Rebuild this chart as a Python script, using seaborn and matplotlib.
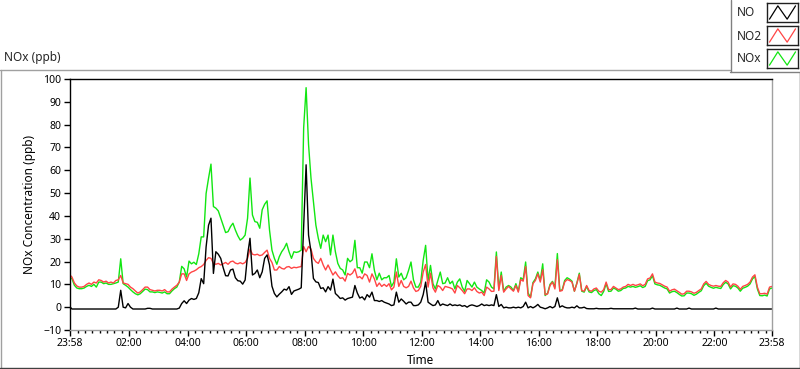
import pandas as pd
import matplotlib
matplotlib.use("Agg")
import matplotlib.pyplot as plt
from matplotlib.lines import Line2D
from matplotlib.patches import Rectangle
import seaborn as sns


# 5-minute samples starting 23:58
start = "2019-03-01 23:58"
step = "5min"

no_ppb = [
    0.4, -0.8, -0.8, -0.8, -0.8, -0.8, -0.8, -0.8, -0.8, -0.8,
    -0.8, -0.8, -0.8, -0.8, -0.8, -0.8, -0.8, -0.8, -0.8, -0.8,
    0.0, 7.4, 0.0, -0.3, 1.6, 0.0, -0.8, -0.8, -0.8, -0.8,
    -0.8, -0.8, -0.5, -0.5, -0.8, -0.8, -0.8, -0.8, -0.8, -0.8,
    -0.8, -0.8, -0.8, -0.8, -0.8, -0.4, 1.6, 2.8, 1.6, 3.1,
    3.8, 3.4, 3.8, 6.3, 12.5, 10.3, 26.4, 35.9,
    39.0, 14.8, 24.3, 23.2, 21.4, 17.3, 13.8, 13.7, 16.3, 16.7,
    12.9, 11.6, 11.4, 10.1, 11.9, 22.9, 30.2, 14.1, 14.8, 16.3,
    12.9, 15.5, 21.4, 22.9, 18.5, 9.2, 6.0, 4.5, 5.7, 6.7,
    7.9, 7.5, 9.0, 5.6, 7.1, 7.5, 7.9, 8.5, 36.0, 62.4,
    31.6, 24.3, 12.6, 11.1, 10.8, 8.2, 8.5, 6.7, 9.0, 7.5,
    12.3, 6.0, 5.0, 3.8, 4.1, 3.1, 3.8, 4.1,
    4.4, 9.5, 6.2, 4.0, 4.5, 3.2, 5.5, 4.4, 6.6, 2.9,
    2.9, 2.5, 2.9, 2.2, 1.8, 1.4, 0.7, 1.0, 6.6, 2.2,
    3.6, 2.6, 1.4, 2.2, 2.2, 0.7, 0.7, 1.0, 2.2, 5.5,
    11.0, 2.2, 1.4, 0.7, 1.0, 2.9, 0.7, 1.4, 1.0, 0.7,
    1.4, 0.7, 1.0, 0.7, 1.0, 0.4, 0.7, 0.0, 0.7, 1.0,
    0.7, 0.3, 0.7, 1.4, 0.7, 1.0, 0.7, 1.0,
    0.7, 5.5, 0.3, 1.2, -0.3, 0.0, -0.3, -0.3, 0.0, -0.3,
    0.0, -0.3, 0.3, 2.2, -0.3, 0.3, -0.3, 0.3, 1.2, 0.0,
    -0.3, -0.7, -0.3, 0.3, -0.3, 0.3, 4.1, 0.0, 0.6, 0.0,
    -0.3, -0.3, 0.0, -0.3, 0.6, -0.3, -0.3, 0.0, -0.6, -0.7,
    -0.7, -0.7, -0.5, -0.7, -0.7, -0.7, -0.7, -0.7, -0.5, -0.7,
    -0.7, -0.7, -0.7, -0.7, -0.7, -0.7, -0.7, -0.7,
    -0.4, -0.8, -0.8, -0.8, -0.8, -0.8, -0.8, -0.4, -0.8, -0.8,
    -0.8, -0.8, -0.8, -0.8, -0.8, -0.8, -0.8, -0.4, -0.8, -0.8,
    -0.8, -0.8, -0.4, -0.8, -0.8, -0.8, -0.8, -0.8, -0.8, -0.8,
    -0.8, -0.8, -0.8, -0.4, -0.8, -0.8, -0.8, -0.8, -0.8, -0.8,
    -0.8, -0.8, -0.8, -0.8, -0.8, -0.8, -0.8, -0.8, -0.8, -0.8,
    -0.8, -0.8, -0.8, -0.8, -0.8, -0.8, -0.8,
]

no2_ppb = [
    14.3, 13.2, 10.6, 9.3, 8.8, 8.8, 9.1, 10.0, 10.6, 10.0,
    11.0, 10.6, 12.0, 11.7, 11.0, 11.4, 10.6, 11.0, 10.6, 11.7,
    12.0, 13.9, 10.6, 10.3, 10.0, 8.8, 8.1, 7.1, 6.2, 6.7,
    7.7, 8.8, 8.8, 7.7, 7.4, 7.1, 7.4, 7.4, 7.1, 7.7,
    6.7, 6.7, 7.9, 8.8, 9.6, 11.0, 14.6, 14.6, 11.7, 14.6,
    15.4, 15.8, 16.4, 17.3, 17.8, 18.7, 20.5, 21.7,
    21.4, 19.2, 18.8, 19.2, 18.5, 19.0, 19.6, 18.8, 19.9, 20.2,
    19.3, 19.0, 19.5, 19.0, 19.6, 21.4, 25.5, 23.2, 22.9, 23.2,
    22.6, 22.9, 24.0, 25.0, 21.4, 19.6, 16.3, 16.3, 17.8, 17.0,
    16.7, 17.6, 17.8, 17.0, 17.5, 17.3, 17.6, 17.8, 26.6, 24.3,
    26.6, 25.5, 21.4, 19.9, 19.2, 21.4, 18.5, 16.3, 18.5, 16.3,
    14.1, 15.5, 13.8, 12.6, 12.9, 11.4, 14.8, 14.1,
    14.9, 16.8, 12.9, 13.4, 12.4, 14.6, 13.9, 11.0, 14.6, 12.4,
    9.1, 10.6, 9.1, 10.0, 9.1, 10.3, 7.6, 8.8, 15.4, 9.1,
    11.7, 9.1, 8.5, 9.1, 11.4, 8.5, 6.9, 7.3, 9.1, 15.4,
    18.7, 8.8, 14.9, 8.5, 6.6, 9.5, 8.8, 7.3, 9.1, 8.8,
    8.5, 8.0, 6.2, 9.5, 8.5, 7.3, 5.9, 8.0, 8.0, 7.3,
    8.5, 6.9, 6.2, 6.6, 5.1, 8.8, 8.0, 6.9,
    7.0, 22.2, 7.3, 13.9, 6.6, 8.0, 9.1, 8.0, 7.0, 9.5,
    6.6, 12.1, 11.4, 17.8, 5.1, 4.1, 10.3, 11.7, 14.6, 11.0,
    16.4, 5.5, 5.8, 9.5, 11.0, 8.0, 20.8, 7.0, 7.3, 11.0,
    12.1, 11.7, 11.0, 7.0, 10.3, 14.3, 7.3, 7.0, 9.5, 7.3,
    7.0, 8.0, 8.4, 7.0, 6.6, 7.7, 11.0, 7.7, 7.7, 9.1,
    8.4, 7.7, 8.0, 8.8, 9.1, 10.0, 9.5, 10.0,
    9.5, 9.8, 10.2, 9.4, 10.0, 12.4, 12.8, 14.6, 11.0, 10.6,
    10.4, 9.8, 9.2, 8.8, 7.0, 7.6, 7.9, 7.2, 6.5, 5.7,
    5.9, 7.0, 7.0, 6.7, 6.1, 6.5, 7.3, 8.0, 10.2, 11.3,
    10.0, 9.5, 9.2, 9.5, 9.2, 9.1, 10.7, 11.7, 11.0, 8.8,
    10.2, 10.0, 9.2, 7.8, 9.1, 9.5, 10.0, 11.0, 13.2, 14.2,
    8.8, 5.9, 5.9, 6.1, 5.7, 8.8, 9.1,
]

nox_ppb = [
    13.2, 12.5, 9.6, 8.4, 8.1, 8.1, 8.4, 9.1, 9.6, 9.1,
    10.0, 8.8, 11.0, 11.0, 10.3, 10.6, 10.0, 10.0, 10.3, 10.6,
    11.0, 21.2, 10.3, 9.6, 8.8, 7.7, 6.7, 5.9, 5.4, 5.9,
    6.9, 7.9, 7.7, 6.7, 6.7, 6.4, 6.7, 6.5, 6.2, 6.7,
    5.9, 5.9, 7.1, 8.1, 8.8, 11.0, 17.9, 16.8, 13.2, 20.2,
    19.0, 19.7, 18.7, 23.4, 30.8, 30.8, 49.8, 56.5,
    62.7, 44.1, 43.4, 42.2, 39.0, 35.7, 32.7, 33.1, 35.3, 36.8,
    33.8, 31.3, 29.4, 30.2, 31.6, 39.0, 56.6, 40.4, 37.5, 37.2,
    34.6, 42.7, 45.1, 46.6, 33.8, 25.0, 21.4, 18.8, 22.1, 24.3,
    25.8, 28.0, 24.3, 21.4, 24.3, 24.0, 24.3, 25.0, 78.6, 96.2,
    71.3, 56.6, 46.3, 36.0, 30.2, 25.8, 31.6, 28.7, 31.6, 22.9,
    31.6, 24.3, 19.2, 17.0, 16.3, 14.1, 21.4, 19.9,
    20.8, 29.3, 17.3, 17.3, 14.9, 19.8, 19.8, 17.3, 23.4, 16.1,
    12.0, 14.9, 12.0, 12.9, 12.9, 13.9, 9.1, 11.0, 21.2, 13.2,
    14.9, 12.0, 12.9, 16.1, 19.8, 12.0, 8.8, 8.8, 11.0, 20.5,
    27.1, 11.7, 18.3, 10.3, 8.0, 11.7, 15.4, 10.3, 10.6, 12.9,
    10.3, 11.4, 8.0, 11.0, 12.4, 8.8, 6.9, 11.7, 10.3, 8.8,
    11.0, 8.8, 8.0, 7.3, 6.2, 12.0, 11.0, 8.8,
    8.0, 24.2, 8.0, 15.4, 7.0, 8.8, 9.5, 8.8, 7.3, 10.3,
    7.0, 12.9, 12.1, 19.8, 6.2, 4.4, 10.8, 12.4, 15.4, 11.7,
    19.0, 5.1, 6.1, 10.0, 11.3, 8.8, 23.5, 7.3, 7.6, 11.7,
    12.9, 12.3, 11.4, 7.0, 10.6, 14.9, 7.0, 6.6, 9.1, 6.7,
    6.4, 7.3, 7.7, 5.9, 5.1, 6.9, 10.3, 6.9, 7.0, 8.4,
    7.9, 7.0, 7.3, 8.2, 8.4, 9.1, 8.8, 9.1,
    8.7, 9.0, 9.4, 8.6, 9.1, 11.6, 12.0, 13.8, 10.2, 9.8,
    9.6, 9.0, 8.4, 8.0, 6.2, 6.8, 7.0, 6.4, 5.6, 4.9,
    5.0, 6.2, 6.2, 5.9, 5.2, 5.7, 6.5, 7.2, 9.4, 10.5,
    9.2, 8.7, 8.3, 8.7, 8.4, 8.2, 9.9, 10.9, 10.2, 8.0,
    9.4, 9.2, 8.4, 7.0, 8.3, 8.7, 9.2, 10.2, 12.4, 13.4,
    8.0, 5.1, 5.0, 5.3, 4.9, 8.0, 8.4,
]

species = ["NO", "NO2", "NOx"]
colors = {"NO": "#000000", "NO2": "#ff4545", "NOx": "#12e612"}
tick_labels = ["23:58", "02:00", "04:00", "06:00", "08:00", "10:00", "12:00",
               "14:00", "16:00", "18:00", "20:00", "22:00", "23:58"]

times = pd.date_range(start, periods=len(no_ppb), freq=step)
df = pd.DataFrame({"Time": times, "NO": no_ppb, "NO2": no2_ppb, "NOx": nox_ppb})
long_df = df.melt(id_vars="Time", var_name="Species", value_name="ppb")

sns.set_style("white")
plt.rcParams["font.family"] = ["Noto Sans", "DejaVu Sans"]
W, H = 800, 369

fig = plt.figure(figsize=(8, 3.69), dpi=100)
ax = fig.add_axes([69.5 / W, 1 - 330 / H, (772 - 69.5) / W, (330 - 79) / H])

sns.lineplot(data=long_df, x="Time", y="ppb", hue="Species",
             hue_order=["NOx", "NO2", "NO"], palette=colors,
             estimator=None, linewidth=1.0, legend=False, ax=ax)

ax.set_xlim(times[0], times[-1])
ax.set_ylim(-10, 100)
ax.set_yticks(range(-10, 101, 10))
majors = ([times[0]] + list(pd.date_range("2019-03-02 02:00", "2019-03-02 22:00", freq="2h"))
          + [times[-1]])
ax.set_xticks(majors)
ax.set_xticklabels(tick_labels)
minors = [t for t in pd.date_range("2019-03-02 00:15", "2019-03-02 23:45", freq="15min")
          if not (t.minute == 0 and t.hour % 2 == 0)]
ax.set_xticks(minors, minor=True)
ax.tick_params(axis="both", which="major", direction="out", length=4, width=1,
               color="black", labelsize=7.5, labelcolor="black", pad=2)
ax.tick_params(axis="x", which="minor", direction="out", length=2.5, width=1, color="black")
ax.tick_params(bottom=True, left=True, which="both")

for side in ["left", "top"]:
    ax.spines[side].set_color("black")
    ax.spines[side].set_linewidth(1)
for side in ["right", "bottom"]:
    ax.spines[side].set_color("#a0a0a0")
    ax.spines[side].set_linewidth(1)

ax.set_xlabel("Time", fontsize=8.5, color="black")
ax.xaxis.label.set_va("center")
ax.xaxis.set_label_coords(0.5, (330 - 360) / 251)
ax.set_ylabel("NOx Concentration (ppb)", fontsize=8.5, color="black")
ax.yaxis.label.set_va("center")
ax.yaxis.set_label_coords((30 - 69.5) / 702.5, 0.5)

fig.text(4 / W, 1 - 58 / H, "NOx (ppb)", fontsize=8.5, ha="left", va="center")

# panel frame
def fline(x0, y0, x1, y1, color):
    fig.add_artist(Line2D([x0 / W, x1 / W], [1 - y0 / H, 1 - y1 / H],
                          transform=fig.transFigure, color=color, lw=1))

fline(0, 69.5, 730, 69.5, "#a0a0a0")
fline(0.5, 69.5, 0.5, 368, "#a0a0a0")
fline(0, 367.5, 800, 367.5, "#404040")
fline(799.5, 72, 799.5, 368, "#404040")

# legend panel
fline(730.5, 0, 730.5, 72, "#808080")
fline(730, 71.5, 800, 71.5, "#808080")
for k, (name, ytop) in enumerate(zip(species, [3, 26, 49])):
    fig.text(737 / W, 1 - (ytop + 10) / H, name, fontsize=8.5, ha="left", va="center")
    iax = fig.add_axes([767 / W, 1 - (ytop + 19) / H, 31 / W, 19 / H])
    iax.plot([0.08, 0.35, 0.65, 0.92], [0.15, 0.85, 0.15, 0.85],
             color=colors[name], lw=0.9)
    iax.set_xlim(0, 1)
    iax.set_ylim(0, 1)
    iax.set_xticks([])
    iax.set_yticks([])
    for s in iax.spines.values():
        s.set_color("#202020")
        s.set_linewidth(1)

fig.savefig("out.png", dpi=100)
